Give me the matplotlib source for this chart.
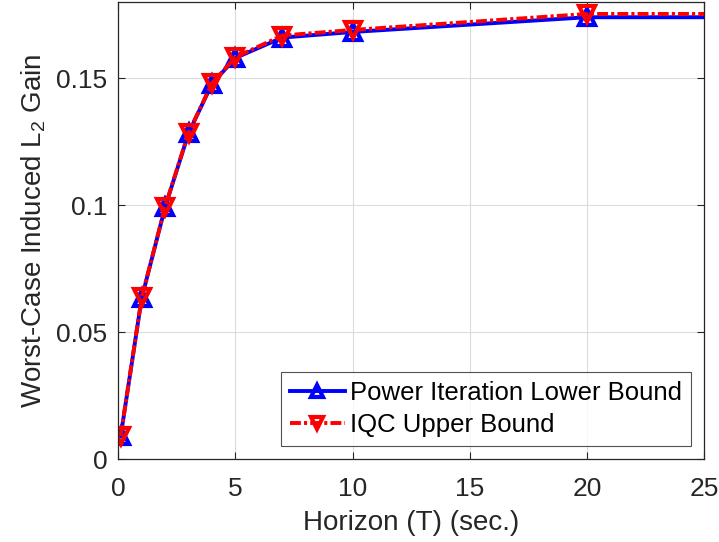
import matplotlib
matplotlib.use("Agg")
import matplotlib.pyplot as plt

plt.rcParams['font.family'] = ['Liberation Sans', 'DejaVu Sans']
plt.rcParams['mathtext.fontset'] = 'custom'
plt.rcParams['mathtext.rm'] = 'Liberation Sans'

# Horizon values and gain bounds
horizon = [0.1, 1, 2, 3, 4, 5, 7, 10, 20, 50]
lower_bound = [0.0090, 0.0635, 0.0993, 0.1284, 0.1478, 0.1580, 0.1660, 0.1682, 0.1740, 0.1740]
upper_bound = [0.0092, 0.0637, 0.0995, 0.1286, 0.1480, 0.1583, 0.1668, 0.1690, 0.1753, 0.1753]

xticks = [0, 5, 10, 15, 20, 25]
yticks = [0, 0.05, 0.1, 0.15]
ytick_labels = ['0', '0.05', '0.1', '0.15']

fig = plt.figure(figsize=(7.19, 5.42), dpi=100)
ax = fig.add_axes([118.3 / 719, 1 - 459.3 / 542, (704 - 118.3) / 719, (459.3 - 2) / 542])

ax.plot(horizon, lower_bound, color=(0, 0, 1), linestyle='-', linewidth=2.8,
        marker='^', markersize=11, markerfacecolor='none', markeredgewidth=3,
        label='Power Iteration Lower Bound')
ax.plot(horizon, upper_bound, color=(1, 0, 0), linestyle=(0, (2.8, 0.8, 0.8, 0.8)),
        linewidth=2.8, marker='v', markersize=11, markerfacecolor='none',
        markeredgewidth=3, label='IQC Upper Bound')

ax.set_xlim(0, 25)
ax.set_ylim(0, 0.18)
ax.set_xticks(xticks)
ax.set_yticks(yticks)
ax.set_yticklabels(ytick_labels)

ax.grid(True, color='#dcdcdc', linewidth=0.8)
ax.set_axisbelow(True)
ax.tick_params(direction='in', length=5, width=0.8, top=True, right=True,
               labelsize=19, colors='#262626')
ax.tick_params(axis='y', pad=8)
ax.tick_params(axis='x', pad=13)
for s in ax.spines.values():
    s.set_color('#262626')
    s.set_linewidth(0.9)

ax.set_xlabel('Horizon (T) (sec.)', fontsize=20, color='#262626', labelpad=6)
ax.set_ylabel(r'Worst-Case Induced L$_\mathregular{2}$ Gain', fontsize=20,
              color='#262626', labelpad=6)

leg = ax.legend(loc='lower right', bbox_to_anchor=(0.978, 0.03), fontsize=18.5,
                frameon=True, fancybox=False, edgecolor='#262626',
                handlelength=2.15, handletextpad=0.2, borderpad=0.35,
                labelspacing=0.3, borderaxespad=0, markerscale=0.8)
leg.get_frame().set_linewidth(0.8)

fig.savefig('out.png', dpi=100)
